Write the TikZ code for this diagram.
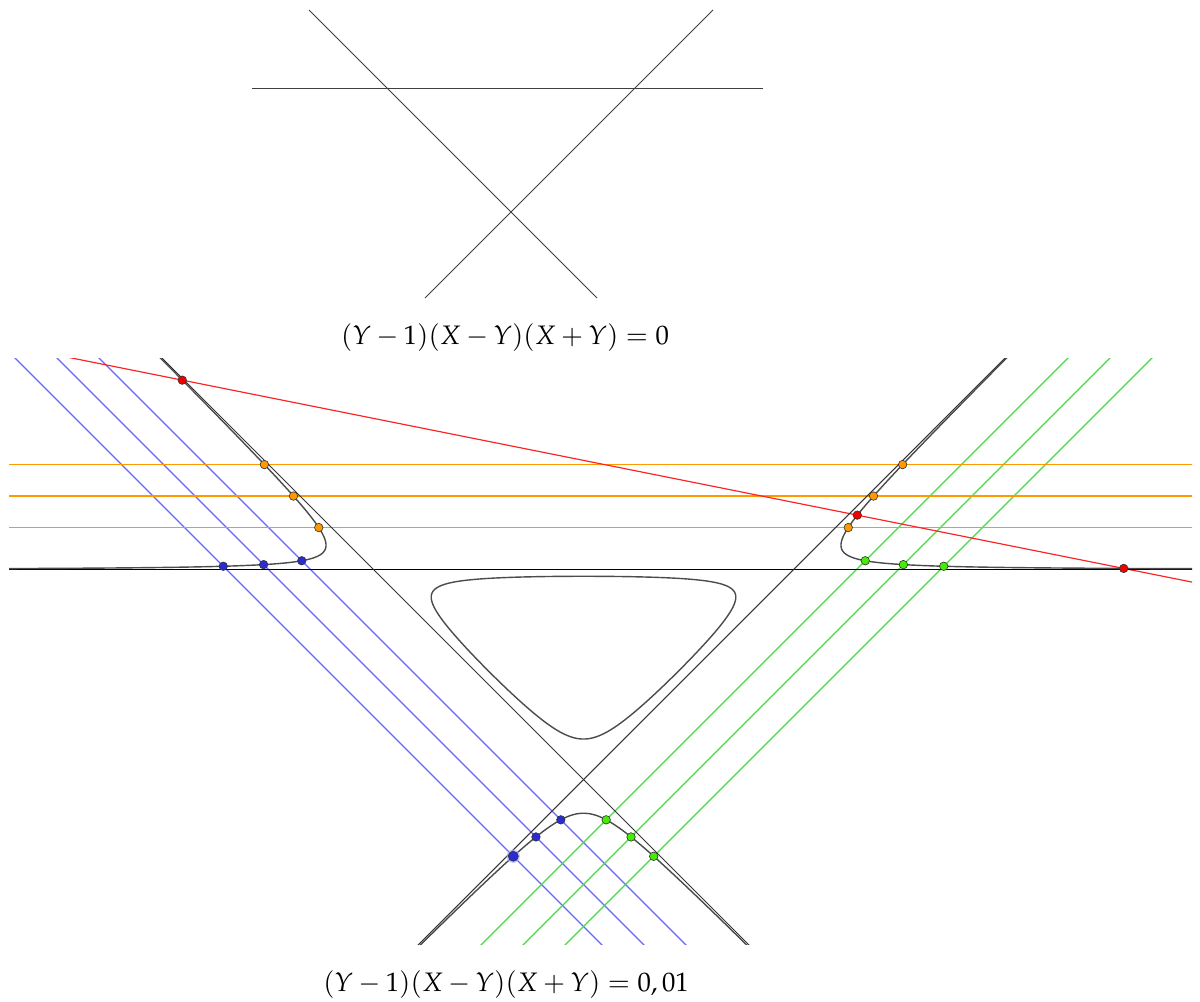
\documentclass[tikz,border=0pt]{standalone}
\usepackage{mathpazo}
\definecolor{blueline}{HTML}{6666FF}
\definecolor{bluept}{HTML}{2B2BD6}
\definecolor{greenline}{HTML}{44DD44}
\definecolor{greenpt}{HTML}{44EE00}
\definecolor{orangeline}{HTML}{FF9900}
\definecolor{redline}{HTML}{FF2222}
\definecolor{redpt}{HTML}{EE0000}
\begin{document}
\begin{tikzpicture}[x=0.02cm,y=-0.02cm,
  topline/.style={line width=0.55pt, black!75},
  asym/.style={line width=0.6pt, black!80},
  curve/.style={line width=0.8pt, black!70},
  colline/.style={line width=0.65pt},
  pt/.style={circle, draw=black!80, line width=0.35pt, inner sep=0pt, minimum size=0.17cm},
  bpt/.style={pt, fill=bluept},
  gpt/.style={pt, fill=greenpt},
  opt/.style={pt, fill=orangeline},
  rpt/.style={pt, fill=redpt},
  captext/.style={font=\fontsize{15.2}{18}\selectfont, inner sep=0pt},
  declare function={
    ovY(\a)=0.19278+0.3876*(1-cos(\a));
    ovX(\a)=sqrt(max(0,ovY(\a)*ovY(\a)-0.03/(1-ovY(\a))));
    loY(\a)=-0.16076-\a*\a;
    loX(\a)=sqrt(max(0,loY(\a)*loY(\a)-0.03/(1-loY(\a))));
    upY(\a)=1+exp(\a);
    upX(\a)=sqrt(upY(\a)*upY(\a)+0.03/exp(\a));
  }]
\useasboundingbox (0,0) rectangle (1200,1001);

% ---- top picture ----
\draw[topline] (252,88) -- (763,88);
\draw[topline] (309,10) -- (597,298);
\draw[topline] (713,10) -- (425,298);
\node[captext] (cap1) at (505,338) {$(Y-1)(X-Y)(X+Y)=0$};

% ---- bottom picture ----
\begin{scope}
\clip (9,358) rectangle (1192,944);
\begin{scope}[shift={(583.5,779.5)}, x=4.2cm, y=4.2cm]
  % coloured lines
  \foreach \c in {-0.3,-0.5,-0.7}
    \draw[blueline, colline] (\c-2.2,2.2) -- (\c+1.0,-1.0);
  \foreach \d in {0.3,0.5,0.7}
    \draw[greenline, colline] (\d+2.2,2.2) -- (\d-1.0,-1.0);
  \foreach \k in {1.5,1.35,1.2}
    \draw[orangeline, colline] (-3,\k) -- (3,\k);
  \draw[redline, colline] (-3,2.12) -- (3,0.92);
  % asymptotes
  \draw[asym, black] (-3,1) -- (3,1);
  \draw[asym] (-2.2,2.2) -- (1.0,-1.0);
  \draw[asym] (2.2,2.2) -- (-1.0,-1.0);
  % cubic curve (Y-1)(X^2-Y^2)=eps
  \draw[curve] plot[variable=\t, domain=-5.7:0.02, samples=260] ({upX(\t)},{upY(\t)});
  \draw[curve] plot[variable=\t, domain=-5.7:0.02, samples=260] ({-upX(\t)},{upY(\t)});
  \draw[curve] plot[variable=\t, domain=0:360, samples=241] ({ifthenelse(\t<180,1,-1)*ovX(\t)},{ovY(\t)}) -- cycle;
  \draw[curve] plot[variable=\t, domain=-0.9:0.9, samples=181] ({ifthenelse(\t<0,-1,1)*loX(\t)},{loY(\t)});
  % points
  \fill[blue!30, opacity=0.7] (-0.33431,-0.36569) circle[radius=0.032];
  \node[bpt] (b1) at (-1.34195,1.04195) {};
  \node[bpt] (b2) at (-1.52355,1.02355) {};
  \node[bpt] (b3) at (-1.71569,1.01569) {};
  \node[bpt] (b4) at (-0.10805,-0.19195) {};
  \node[bpt] (b5) at (-0.22645,-0.27355) {};
  \node[bpt, minimum size=0.2cm] (b6) at (-0.33431,-0.36569) {};
  \node[gpt] (g1) at (1.34195,1.04195) {};
  \node[gpt] (g2) at (1.52355,1.02355) {};
  \node[gpt] (g3) at (1.71569,1.01569) {};
  \node[gpt] (g4) at (0.10805,-0.19195) {};
  \node[gpt] (g5) at (0.22645,-0.27355) {};
  \node[gpt] (g6) at (0.33431,-0.36569) {};
  \node[opt] (o1) at (-1.5199,1.5) {};
  \node[opt] (o2) at (-1.38138,1.35) {};
  \node[opt] (o3) at (-1.26095,1.2) {};
  \node[opt] (o4) at (1.5199,1.5) {};
  \node[opt] (o5) at (1.38138,1.35) {};
  \node[opt] (o6) at (1.26095,1.2) {};
  \node[rpt] (r1) at (-1.911,1.902) {};
  \node[rpt] (r2) at (1.304,1.2592) {};
  \node[rpt] (r3) at (2.573,1.0054) {};
\end{scope}
\end{scope}
\node[captext] (cap2) at (506,985) {$(Y-1)(X-Y)(X+Y)=0,01$};
\end{tikzpicture}
\end{document}
